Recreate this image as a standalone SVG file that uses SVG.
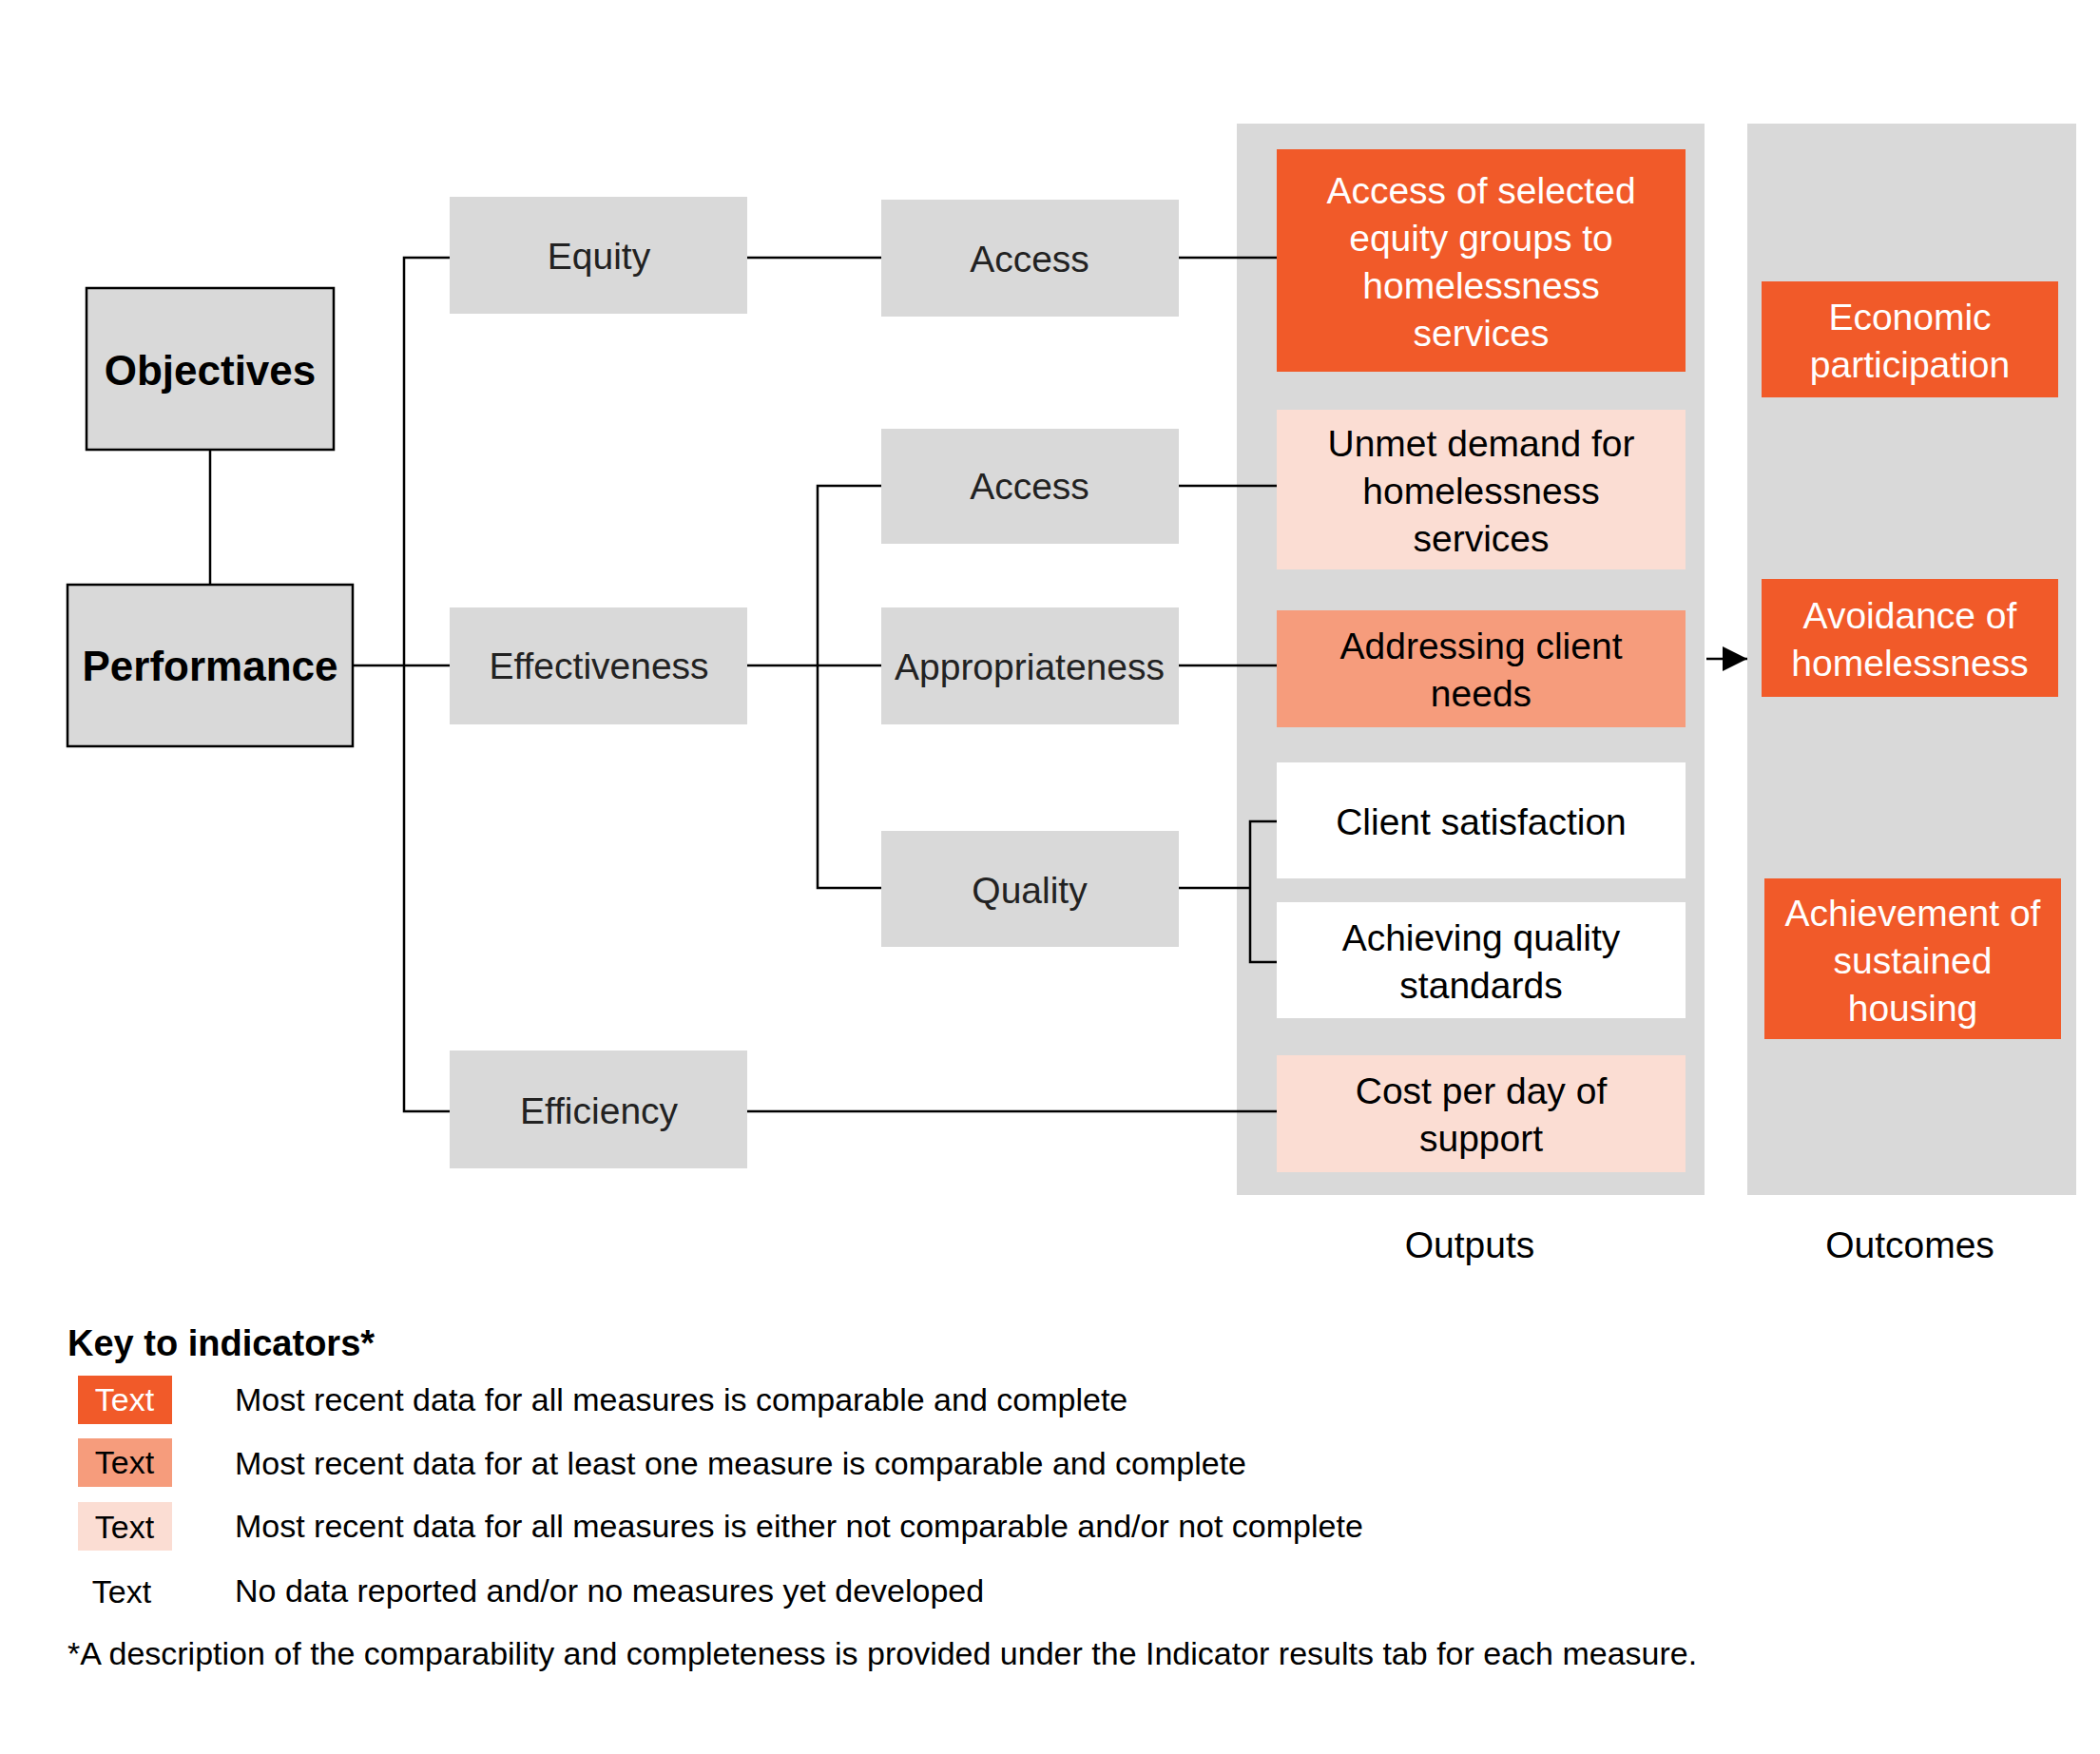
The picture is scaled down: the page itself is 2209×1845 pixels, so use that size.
<svg xmlns="http://www.w3.org/2000/svg" width="2209" height="1845" viewBox="0 0 2209 1845">
<style>
text{font-family:"Liberation Sans",Arial,sans-serif;text-anchor:middle;dominant-baseline:central}
.g{fill:#d9d9d9}
.b{font-size:39px;fill:#222}
.w{font-size:39px;fill:#fff}
.k{font-size:39px;fill:#000}
.key{font-size:34px;fill:#000;text-anchor:start}
.c line,.c polyline{stroke:#000;stroke-width:2.5;fill:none}
.d{fill:#F15A29}.m{fill:#F69C7C}.l{fill:#FBDDD3}
</style>
<defs><marker id="ah" markerWidth="10" markerHeight="10" refX="9" refY="5" orient="auto" markerUnits="userSpaceOnUse"><path d="M0,0 L10,5 L0,10z" fill="#000"/></marker>
<marker id="a2" viewBox="0 0 10 10" refX="10" refY="5" markerWidth="26" markerHeight="26" orient="auto" markerUnits="userSpaceOnUse"><path d="M0,0 L10,5 L0,10z" fill="#000"/></marker></defs>
<rect class="g" x="1301" y="130" width="492" height="1127"/>
<rect class="g" x="1838" y="130" width="346" height="1127"/>
<g class="c">
<line x1="221" y1="473" x2="221" y2="615"/>
<line x1="371" y1="700" x2="473" y2="700"/>
<polyline points="473,271 425,271 425,1169 473,1169"/>
<line x1="786" y1="271" x2="927" y2="271"/>
<line x1="786" y1="700" x2="927" y2="700"/>
<polyline points="927,511 860,511 860,934 927,934"/>
<line x1="1240" y1="271" x2="1343" y2="271"/>
<line x1="1240" y1="511" x2="1343" y2="511"/>
<line x1="1240" y1="700" x2="1343" y2="700"/>
<line x1="1240" y1="934" x2="1315" y2="934"/>
<polyline points="1343,864 1315,864 1315,1012 1343,1012"/>
<line x1="786" y1="1169" x2="1343" y2="1169"/>
<line x1="1795" y1="693" x2="1838" y2="693" marker-end="url(#a2)"/>
</g>
<g id="objectives"><rect x="91" y="303" width="260" height="170" fill="#d9d9d9" stroke="#000" stroke-width="2.5"/><text x="221" y="389" style="font-size:44px;font-weight:bold">Objectives</text></g>
<g id="performance"><rect x="71" y="615" width="300" height="170" fill="#d9d9d9" stroke="#000" stroke-width="2.5"/><text x="221" y="700" style="font-size:44px;font-weight:bold">Performance</text></g>
<g id="equity"><rect class="g" x="473" y="207" width="313" height="123"/><text class="b" x="630" y="269">Equity</text></g>
<g id="effectiveness"><rect class="g" x="473" y="639" width="313" height="123"/><text class="b" x="630" y="700">Effectiveness</text></g>
<g id="efficiency"><rect class="g" x="473" y="1105" width="313" height="124"/><text class="b" x="630" y="1168">Efficiency</text></g>
<g id="access1"><rect class="g" x="927" y="210" width="313" height="123"/><text class="b" x="1083" y="272">Access</text></g>
<g id="access2"><rect class="g" x="927" y="451" width="313" height="121"/><text class="b" x="1083" y="511">Access</text></g>
<g id="appropriateness"><rect class="g" x="927" y="639" width="313" height="123"/><text class="b" x="1083" y="701">Appropriateness</text></g>
<g id="quality"><rect class="g" x="927" y="874" width="313" height="122"/><text class="b" x="1083" y="936">Quality</text></g>
<g id="o1"><rect class="d" x="1343" y="157" width="430" height="234"/><text class="w" x="1558"><tspan x="1558" y="200">Access of selected</tspan><tspan x="1558" y="250">equity groups to</tspan><tspan x="1558" y="300">homelessness</tspan><tspan x="1558" y="350">services</tspan></text></g>
<g id="o2"><rect class="l" x="1343" y="431" width="430" height="168"/><text class="k" x="1558"><tspan x="1558" y="466">Unmet demand for</tspan><tspan x="1558" y="516">homelessness</tspan><tspan x="1558" y="566">services</tspan></text></g>
<g id="o3"><rect class="m" x="1343" y="642" width="430" height="123"/><text class="k" x="1558"><tspan x="1558" y="679">Addressing client</tspan><tspan x="1558" y="729">needs</tspan></text></g>
<g id="o4"><rect fill="#fff" x="1343" y="802" width="430" height="122"/><text class="k" x="1558" y="864">Client satisfaction</text></g>
<g id="o5"><rect fill="#fff" x="1343" y="949" width="430" height="122"/><text class="k" x="1558"><tspan x="1558" y="986">Achieving quality</tspan><tspan x="1558" y="1036">standards</tspan></text></g>
<g id="o6"><rect class="l" x="1343" y="1110" width="430" height="123"/><text class="k" x="1558"><tspan x="1558" y="1147">Cost per day of</tspan><tspan x="1558" y="1197">support</tspan></text></g>
<g id="e1"><rect class="d" x="1853" y="296" width="312" height="122"/><text class="w" x="2009"><tspan x="2009" y="333">Economic</tspan><tspan x="2009" y="383">participation</tspan></text></g>
<g id="e2"><rect class="d" x="1853" y="609" width="312" height="124"/><text class="w" x="2009"><tspan x="2009" y="647">Avoidance of</tspan><tspan x="2009" y="697">homelessness</tspan></text></g>
<g id="e3"><rect class="d" x="1856" y="924" width="312" height="169"/><text class="w" x="2012"><tspan x="2012" y="960">Achievement of</tspan><tspan x="2012" y="1010">sustained</tspan><tspan x="2012" y="1060">housing</tspan></text></g>
<text class="k" x="1546" y="1309">Outputs</text>
<text class="k" x="2009" y="1309">Outcomes</text>
<g id="key">
<text class="key" x="71" y="1413" style="font-weight:bold;font-size:38px">Key to indicators*</text>
<rect class="d" x="82" y="1447" width="99" height="51"/><text x="131" y="1472" style="font-size:34px;fill:#fff">Text</text>
<text class="key" x="247" y="1472">Most recent data for all measures is comparable and complete</text>
<rect class="m" x="82" y="1513" width="99" height="51"/><text x="131" y="1538" style="font-size:34px">Text</text>
<text class="key" x="247" y="1539">Most recent data for at least one measure is comparable and complete</text>
<rect class="l" x="82" y="1580" width="99" height="51"/><text x="131" y="1606" style="font-size:34px">Text</text>
<text class="key" x="247" y="1605">Most recent data for all measures is either not comparable and/or not complete</text>
<text x="128" y="1674" style="font-size:34px">Text</text>
<text class="key" x="247" y="1673">No data reported and/or no measures yet developed</text>
<text class="key" x="71" y="1739">*A description of the comparability and completeness is provided under the Indicator results tab for each measure.</text>
</g>
</svg>
